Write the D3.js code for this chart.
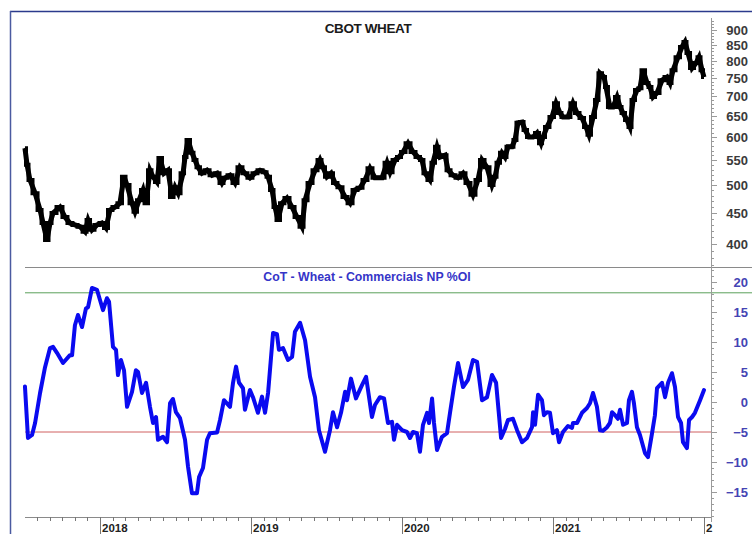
<!DOCTYPE html>
<html><head><meta charset="utf-8">
<script src="https://cdn.jsdelivr.net/npm/d3@7"></script>
<style>
html,body{margin:0;padding:0;background:#fff;}
svg{display:block;font-family:"Liberation Sans",Arial,sans-serif;}
</style></head>
<body><svg id="c" width="752" height="534"></svg>
<script>
// ---- Data (decimal years) ----
const priceTime = [2017.503,2017.517,2017.536,2017.570,2017.603,2017.623,2017.649,2017.669,2017.689,2017.735,2017.768,2017.801,2017.834,2017.868,2017.901,2017.921,2017.947,2017.980,2018.013,2018.040,2018.066,2018.099,2018.132,2018.159,2018.179,2018.212,2018.232,2018.258,2018.285,2018.305,2018.331,2018.351,2018.377,2018.397,2018.424,2018.450,2018.477,2018.497,2018.517,2018.550,2018.563,2018.583,2018.609,2018.629,2018.649,2018.675,2018.709,2018.742,2018.775,2018.808,2018.828,2018.861,2018.894,2018.927,2018.960,2018.993,2019.026,2019.060,2019.093,2019.113,2019.139,2019.159,2019.179,2019.205,2019.238,2019.272,2019.305,2019.338,2019.358,2019.391,2019.424,2019.457,2019.477,2019.503,2019.530,2019.556,2019.589,2019.623,2019.656,2019.689,2019.722,2019.755,2019.788,2019.821,2019.868,2019.901,2019.921,2019.954,2019.980,2020.007,2020.040,2020.073,2020.106,2020.132,2020.152,2020.185,2020.205,2020.232,2020.252,2020.285,2020.305,2020.338,2020.371,2020.404,2020.437,2020.470,2020.503,2020.530,2020.563,2020.596,2020.616,2020.636,2020.662,2020.682,2020.702,2020.728,2020.748,2020.768,2020.795,2020.815,2020.841,2020.868,2020.894,2020.921,2020.934,2020.960,2020.993,2021.020,2021.046,2021.066,2021.099,2021.132,2021.159,2021.192,2021.219,2021.238,2021.265,2021.291,2021.311,2021.338,2021.351,2021.377,2021.397,2021.424,2021.444,2021.464,2021.490,2021.510,2021.530,2021.556,2021.576,2021.596,2021.623,2021.642,2021.662,2021.689,2021.722,2021.755,2021.775,2021.795,2021.828,2021.854,2021.874,2021.894,2021.921,2021.947,2021.967,2021.987,2022.000];
const priceValue = [575,540,510,485,455,433,406,433,450,460,443,433,430,427,419,438,422,430,433,425,455,460,467,516,500,467,452,472,491,467,529,516,506,554,523,529,478,496,485,523,556,593,565,550,535,523,529,519,523,504,514,519,504,535,523,514,523,529,525,516,491,460,438,467,476,460,443,427,472,504,529,550,535,516,523,504,496,478,467,491,495,510,533,514,514,544,525,550,556,567,586,567,556,550,523,510,544,578,556,560,529,519,514,523,504,482,510,550,535,500,516,544,565,556,578,578,593,633,635,616,600,600,609,586,600,623,647,682,657,647,647,682,657,645,623,605,647,690,764,753,725,672,672,698,672,657,640,623,690,717,722,773,736,725,698,709,744,753,736,773,812,844,860,825,779,794,812,773,753];

const cotTime = [2017.503,2017.523,2017.550,2017.570,2017.603,2017.636,2017.669,2017.689,2017.715,2017.755,2017.801,2017.815,2017.834,2017.854,2017.881,2017.907,2017.921,2017.947,2017.980,2018.000,2018.020,2018.046,2018.060,2018.086,2018.106,2018.119,2018.139,2018.159,2018.179,2018.212,2018.238,2018.252,2018.278,2018.305,2018.331,2018.351,2018.371,2018.384,2018.417,2018.444,2018.464,2018.483,2018.503,2018.530,2018.563,2018.583,2018.609,2018.642,2018.656,2018.682,2018.709,2018.728,2018.775,2018.795,2018.821,2018.861,2018.881,2018.901,2018.921,2018.947,2018.960,2018.993,2019.013,2019.046,2019.073,2019.093,2019.113,2019.146,2019.172,2019.185,2019.212,2019.245,2019.272,2019.291,2019.325,2019.358,2019.391,2019.424,2019.450,2019.490,2019.523,2019.543,2019.570,2019.596,2019.623,2019.636,2019.662,2019.695,2019.735,2019.762,2019.801,2019.821,2019.854,2019.881,2019.907,2019.934,2019.947,2019.967,2020.000,2020.033,2020.053,2020.073,2020.099,2020.119,2020.139,2020.166,2020.179,2020.199,2020.212,2020.232,2020.265,2020.298,2020.318,2020.344,2020.371,2020.404,2020.437,2020.470,2020.497,2020.530,2020.563,2020.596,2020.623,2020.656,2020.682,2020.702,2020.735,2020.762,2020.795,2020.828,2020.861,2020.868,2020.881,2020.901,2020.927,2020.940,2020.960,2020.980,2021.000,2021.026,2021.040,2021.066,2021.099,2021.126,2021.132,2021.159,2021.192,2021.225,2021.245,2021.265,2021.291,2021.311,2021.331,2021.358,2021.377,2021.391,2021.411,2021.430,2021.444,2021.464,2021.490,2021.503,2021.523,2021.536,2021.556,2021.576,2021.609,2021.629,2021.656,2021.675,2021.689,2021.722,2021.742,2021.762,2021.788,2021.808,2021.828,2021.848,2021.861,2021.887,2021.901,2021.921,2021.940,2021.974,2022.000];
const cotValue = [2.6,-6,-5.5,-3.5,1.5,5.8,9,9.2,8.2,6.5,7.8,7.8,12.8,14.5,12.5,15.6,15.8,19,18.7,17,15.3,17.3,16.7,9.2,8.7,4.5,7,5.3,-0.8,1.7,5.3,5.0,1.5,3.2,-0.8,-3.5,-2.5,-6.3,-5.8,-6.7,-0.2,0.5,-1.7,-2.7,-6.3,-10.8,-15.2,-15.2,-12.5,-11,-6.3,-5.2,-5.1,-3,0.3,-0.8,3.2,5.9,3.2,2.3,-1.3,2,0.8,-1.8,0.9,-1.8,1.5,11.5,11.3,8.7,9,7,7.5,11.7,13.2,10.3,4.2,0.8,-4.7,-8.3,-4.7,-1.7,-4.2,-1.8,1.7,0.3,3.9,0.6,2.8,4.2,-2.5,-0.5,0.8,0.6,-3.5,-3.3,-6.3,-3.8,-4.7,-5,-6,-5,-5.2,-8.3,-3.8,-1.8,-3.5,0.6,-3.5,-8,-5.8,-5.2,-1.8,2.5,6.5,2.5,3.7,7,6.7,0.3,0.8,4.5,3.2,-6,-4.5,-3,-2.8,-4.7,-6.7,-6,-4.2,-1.7,-3.8,1.2,0.3,-2.2,-1.7,-1.8,-5.2,-4.7,-6.7,-5,-4,-4.3,-3.5,-3.5,-1.8,-1,-0.2,1.5,-0.8,-4.7,-4.8,-4.2,-3.5,-1.7,-2.2,-2.8,-1.3,-3.8,-3.5,0.3,1.7,-0.2,-4.2,-5.5,-8.5,-9.2,-5.2,-2.2,2.3,3.2,0.8,3.2,4.8,2.5,-2.5,-3.5,-6.7,-7.7,-3,-2.5,-1.8,0.3,2];

const priceTicks = [400,450,500,550,600,650,700,750,800,850,900];
const cotTicks = [20,15,10,5,0,-5,-10,-15];
const yearTicks = [2018,2019,2020,2021,2022];
const yearLabels = ["2018","2019","2020","2021","2"];
const upperLevel = 18.2;   // green reference line
const lowerLevel = -5;     // red reference line
const topTitle = "CBOT WHEAT";
const bottomTitle = "CoT - Wheat - Commercials NP %OI";

// ---- Layout ----
const svg = d3.select("#c");
const L = 25, R = 711, W = 752;
const x = d3.scaleLinear().domain([2018, 2022]).range([100, 704]);
const yP = d3.scaleLog().domain([400, 900]).range([244, 30]);
const yC = d3.scaleLinear().domain([-15, 20]).range([492, 282]);
const divY = 267, botY = 517;

svg.append("rect").attr("width", W).attr("height", 534).attr("fill", "#fff");

// outer frame
svg.append("line").attr("x1", 10).attr("x2", W).attr("y1", 11.5).attr("y2", 11.5)
  .attr("stroke", "#2b3a8c").attr("stroke-width", 1.5);
svg.append("line").attr("x1", 10.5).attr("x2", 10.5).attr("y1", 11).attr("y2", 534)
  .attr("stroke", "#4a5aa0").attr("stroke-width", 1.5);

// divider and bottom axis line
svg.append("line").attr("x1", L).attr("x2", W).attr("y1", divY + 0.5).attr("y2", divY + 0.5)
  .attr("stroke", "#8a8a8a").attr("stroke-width", 1);
svg.append("line").attr("x1", L).attr("x2", R).attr("y1", botY + 0.5).attr("y2", botY + 0.5)
  .attr("stroke", "#8a8a8a").attr("stroke-width", 1);

// reference lines
svg.append("line").attr("x1", L).attr("x2", W).attr("y1", yC(upperLevel)).attr("y2", yC(upperLevel))
  .attr("stroke", "#5aa05a").attr("stroke-width", 1);
svg.append("line").attr("x1", L).attr("x2", R).attr("y1", yC(lowerLevel)).attr("y2", yC(lowerLevel))
  .attr("stroke", "#d06060").attr("stroke-width", 1);

// right axis line
svg.append("line").attr("x1", R + 0.5).attr("x2", R + 0.5).attr("y1", 18).attr("y2", 522)
  .attr("stroke", "#9a9a9a").attr("stroke-width", 1);

// price axis (log) with minor ticks
const minorP = d3.range(370, 970, 10);
svg.append("g").selectAll("line").data(minorP).join("line")
  .attr("x1", R).attr("x2", d => d % 50 === 0 ? R + 6 : R + 3)
  .attr("y1", d => Math.round(yP(d)) + 0.5).attr("y2", d => Math.round(yP(d)) + 0.5)
  .attr("stroke", "#9a9a9a").attr("stroke-width", 1)
  .filter(d => yP(d) < 20 || yP(d) > 265).remove();
const axP = d3.axisRight(yP).tickValues(priceTicks).tickFormat(d3.format("d")).tickSize(0).tickPadding(0);
const gP = svg.append("g").attr("transform", `translate(${W - 4},0)`).call(axP);
gP.select(".domain").remove();
gP.selectAll("text").attr("text-anchor", "end").attr("x", 0)
  .attr("font-size", 13).attr("font-weight", "bold").attr("fill", "#3a3a3a")
  .attr("font-family", "Liberation Sans, Arial, sans-serif");

// cot axis with minor ticks
const minorC = d3.range(-19, 23, 1);
svg.append("g").selectAll("line").data(minorC).join("line")
  .attr("x1", R).attr("x2", d => d % 5 === 0 ? R + 6 : R + 3)
  .attr("y1", d => Math.round(yC(d)) + 0.5).attr("y2", d => Math.round(yC(d)) + 0.5)
  .attr("stroke", "#9a9a9a").attr("stroke-width", 1);
const axC = d3.axisRight(yC).tickValues(cotTicks).tickFormat(d3.format("d")).tickSize(0).tickPadding(0);
const gC = svg.append("g").attr("transform", `translate(${W - 4},0)`).call(axC);
gC.select(".domain").remove();
gC.selectAll("text").attr("text-anchor", "end").attr("x", 0)
  .attr("font-size", 13).attr("font-weight", "bold").attr("fill", "#4444b4")
  .attr("font-family", "Liberation Sans, Arial, sans-serif");

// bottom time axis: monthly minor ticks, year ticks and labels
const months = d3.range(7, 12 * 5 + 2).map(m => 2017 + m / 12).filter(t => x(t) >= L && x(t) <= R);
svg.append("g").selectAll("line").data(months).join("line")
  .attr("x1", d => Math.round(x(d)) + 0.5).attr("x2", d => Math.round(x(d)) + 0.5)
  .attr("y1", botY).attr("y2", botY + 4)
  .attr("stroke", "#777").attr("stroke-width", 1);
svg.append("g").selectAll("line").data(yearTicks).join("line")
  .attr("x1", d => Math.round(x(d)) + 0.5).attr("x2", d => Math.round(x(d)) + 0.5)
  .attr("y1", botY).attr("y2", 534)
  .attr("stroke", "#777").attr("stroke-width", 1);
svg.append("g").selectAll("text").data(yearTicks).join("text")
  .attr("x", d => Math.round(x(d)) + 2).attr("y", 532)
  .attr("font-size", 11.5).attr("font-weight", "bold").attr("fill", "#222")
  .text((d, i) => yearLabels[i]);

// titles
svg.append("text").attr("x", 368).attr("y", 33).attr("text-anchor", "middle")
  .attr("font-size", 13.5).attr("font-weight", "bold").attr("fill", "#1a1a1a")
  .attr("letter-spacing", -0.4).text(topTitle);
svg.append("text").attr("x", 367).attr("y", 281).attr("text-anchor", "middle")
  .attr("font-size", 12.3).attr("font-weight", "bold").attr("fill", "#3535c8")
  .text(bottomTitle);

// price: a thick band made of a linear path plus a stepped path (bar-like look)
const priceData = priceTime.map((t, i) => ({t, v: priceValue[i]}));
svg.append("path").datum(priceData)
  .attr("d", d3.line().x(d => x(d.t)).y(d => yP(d.v)))
  .attr("fill", "none").attr("stroke", "#000").attr("stroke-width", 5)
  .attr("stroke-linejoin", "miter");
svg.append("path").datum(priceData)
  .attr("d", d3.line().x(d => x(d.t)).y(d => yP(d.v)).curve(d3.curveStep))
  .attr("fill", "none").attr("stroke", "#000").attr("stroke-width", 4)
  .attr("stroke-linejoin", "miter");

// cot line
const cotData = cotTime.map((t, i) => ({t, v: cotValue[i]}));
svg.append("path").datum(cotData)
  .attr("d", d3.line().x(d => x(d.t)).y(d => yC(d.v)))
  .attr("fill", "none").attr("stroke", "#0a0af0").attr("stroke-width", 4)
  .attr("stroke-linejoin", "round").attr("stroke-linecap", "round");
</script></body></html>
